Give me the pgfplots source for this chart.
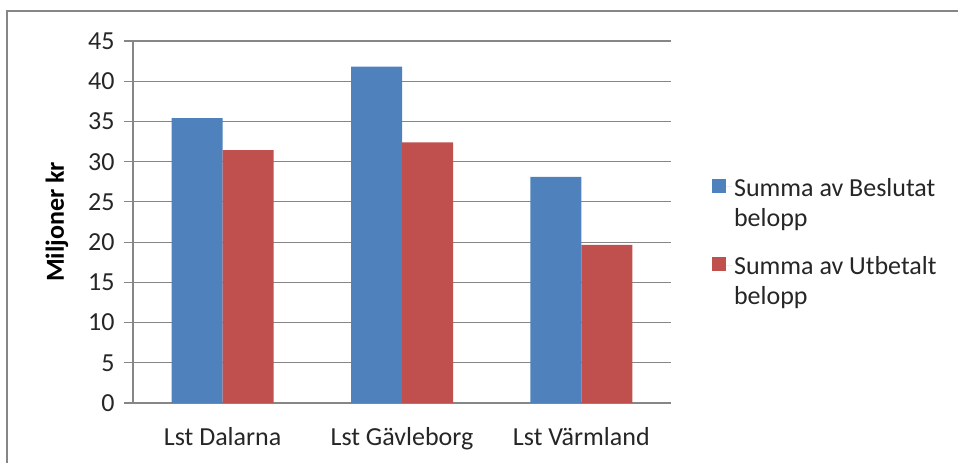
\documentclass[border=0pt]{standalone}
\usepackage{pgfplots}
\pgfplotsset{compat=1.18}
\usepackage{fontspec}
\setmainfont{Carlito}
\definecolor{cblue}{RGB}{79,129,189}
\definecolor{cred}{RGB}{192,80,77}
\definecolor{cgrid}{RGB}{134,134,134}
\begin{document}
\begin{tikzpicture}
\path[use as bounding box] (0bp,0bp) rectangle (958bp,463bp);
\draw[cgrid, line width=1.5bp] (7bp,0bp) -- (7bp,452bp) -- (958bp,452bp);
\begin{axis}[
  at={(133bp,60bp)}, anchor=south west,
  scale only axis, width=538bp, height=362bp,
  ybar=0pt, bar width=51bp,
  xmin=-0.5, xmax=2.5, ymin=0, ymax=45,
  xtick={0,1,2}, xticklabels={Lst Dalarna, Lst Gävleborg, Lst Värmland},
  ytick={0,5,...,45},
  axis lines*=left,
  axis line style={cgrid, line width=1.2bp},
  x axis line style={-}, y axis line style={-},
  ymajorgrids, grid style={cgrid, line width=1.2bp},
  major x tick style={draw=none},
  major y tick style={cgrid, line width=1.2bp},
  tick align=outside, major tick length=9bp,
  /pgf/number format/assume math mode=true,
  tick label style={font=\fontsize{26bp}{31bp}\selectfont, text=black!85},
  yticklabel style={xshift=-6bp},
  xticklabel style={yshift=-12bp},
  ylabel={\textbf{Miljoner kr}},
  every axis y label/.style={at={(-76bp,181bp)}, rotate=90, anchor=center,
    font=\fontsize{26bp}{31bp}\selectfont, text=black},
  legend style={draw=none, at={(1.076,0.489)}, anchor=west, inner sep=0pt,
    font=\fontsize{26bp}{30bp}\selectfont, row sep=52bp, text=black!85},
  legend cell align=left,
  legend image code/.code={\path (0bp,0bp) -- (20bp,0bp);\fill[#1] (0bp,-6bp) rectangle (14bp,8bp);},
]
\addplot[fill=cblue, draw=none] coordinates {(0,35.4) (1,41.8) (2,28.1)};
\addlegendentry{\begin{tabular}[t]{@{}l@{}}Summa av Beslutat\\belopp\end{tabular}}
\addplot[fill=cred, draw=none] coordinates {(0,31.45) (1,32.4) (2,19.65)};
\addlegendentry{\begin{tabular}[t]{@{}l@{}}Summa av Utbetalt\\belopp\end{tabular}}
\end{axis}
\end{tikzpicture}
\end{document}
